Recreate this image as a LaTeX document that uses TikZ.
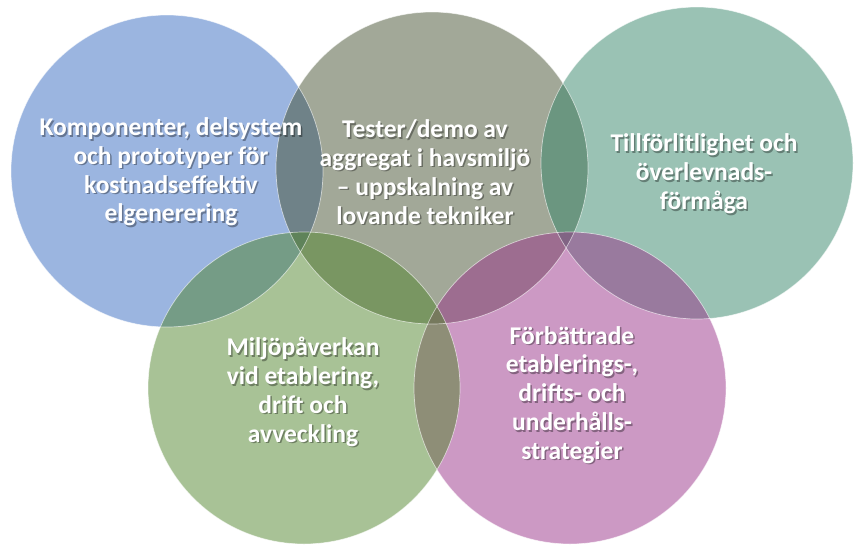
\documentclass[tikz,border=0pt]{standalone}
\usepackage{fontspec}
\setmainfont{Carlito}
\definecolor{blaa}{RGB}{55,107,193}
\definecolor{oliv}{RGB}{69,81,49}
\definecolor{turkos}{RGB}{53,133,105}
\definecolor{groen}{RGB}{81,133,45}
\definecolor{rosa}{RGB}{153,51,137}
\begin{document}
\begin{tikzpicture}[
		x=1pt, y=-1pt,
		cirkel/.style={circle, minimum size=312pt, inner sep=0pt, fill opacity=0.5},
		kant/.style={draw=white, line width=0.7pt, draw opacity=0.6},
		rubrik/.style={align=center, inner sep=0pt, text=white,
				font=\fontsize{25.5}{28.8}\selectfont\bfseries},
		skugga/.style={rubrik, text=black, text opacity=0.35}
	]
	\useasboundingbox (0,0) rectangle (854,544);
	\node[cirkel, fill=blaa] (komp) at (167,171) {};
	\node[cirkel, fill=oliv] (test) at (432,168) {};
	\node[cirkel, fill=turkos] (till) at (697,163) {};
	\node[cirkel, fill=rosa] (forb) at (570,388) {};
	\node[cirkel, fill=groen] (milj) at (304,388) {};
	\foreach \c in {komp,test,till,forb,milj}
	\draw[kant] (\c) circle (156pt);
	% skuggor
	\node[skugga] (komp-s) at ([shift={(5.5,2.5)}]komp) {Komponenter, delsystem\\och prototyper för\\kostnadseffektiv\\elgenerering};
	\node[skugga] (test-s) at ([shift={(-5.5,5.5)}]test) {Tester/demo av\\aggregat i havsmiljö\\– uppskalning av\\lovande tekniker};
	\node[skugga] (till-s) at ([shift={(8.5,12.5)}]till) {Tillförlitlighet och\\överlevnads-\\förmåga};
	\node[skugga] (milj-s) at ([shift={(0.5,5.5)}]milj) {Miljöpåverkan\\vid etablering,\\drift och\\avveckling};
	\node[skugga] (forb-s) at ([shift={(3.5,8.5)}]forb) {Förbättrade\\etablerings-,\\drifts- och\\underhålls-\\strategier};
	% texter
	\node[rubrik] (komp-t) at ([shift={(4,1)}]komp) {Komponenter, delsystem\\och prototyper för\\kostnadseffektiv\\elgenerering};
	\node[rubrik] (test-t) at ([shift={(-7,4)}]test) {Tester/demo av\\aggregat i havsmiljö\\– uppskalning av\\lovande tekniker};
	\node[rubrik] (till-t) at ([shift={(7,11)}]till) {Tillförlitlighet och\\överlevnads-\\förmåga};
	\node[rubrik] (milj-t) at ([shift={(-1,4)}]milj) {Miljöpåverkan\\vid etablering,\\drift och\\avveckling};
	\node[rubrik] (forb-t) at ([shift={(2,7)}]forb) {Förbättrade\\etablerings-,\\drifts- och\\underhålls-\\strategier};
\end{tikzpicture}
\end{document}
